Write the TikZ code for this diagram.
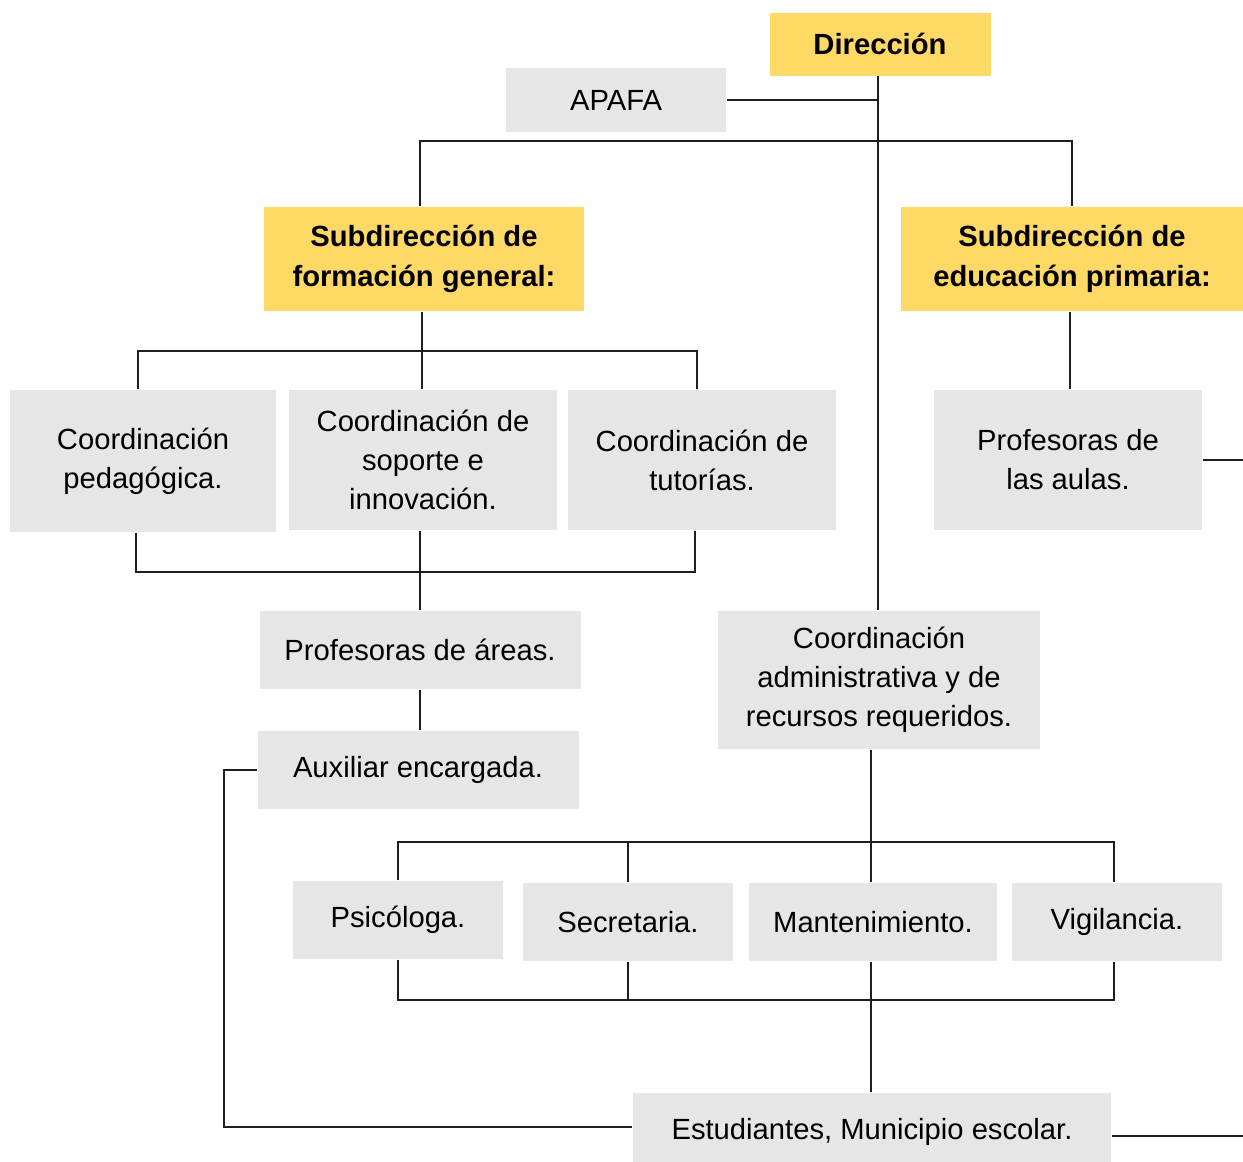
\documentclass[tikz,border=0pt]{standalone}
\usepackage{fontspec}
\setmainfont{Liberation Sans}
\usetikzlibrary{positioning,calc}
\definecolor{ink}{RGB}{30,30,30}
\definecolor{boxgray}{RGB}{230,230,230}
\definecolor{gold}{RGB}{255,217,102}
\tikzset{
  every picture/.style={color=ink, line width=0.6pt},
  unit/.style={fill=boxgray, inner sep=2pt, align=center, text=black, font=\fontsize{14.6}{19.5}\selectfont},
  head/.style={unit, fill=gold, font=\fontsize{14.6}{20}\selectfont\bfseries},
  link/.style={draw=ink, line width=0.6pt},
}
\begin{document}
\begin{tikzpicture}[x=0.5pt, y=-0.5pt]
  \useasboundingbox (0,0) rectangle (1243,1162);
  % top of the chart: direction and parents' association
  \node[head, minimum width=110.5pt, minimum height=31.5pt] (dir) at (880,44) {Dirección};
  \node[unit, minimum width=110pt, minimum height=32pt] (apafa) at (616,100) {APAFA};
  \node[head, minimum width=160pt, minimum height=52pt] (subgen) at (424,259) {Subdirección de\\ formación general:};
  \node[head, minimum width=171pt, minimum height=52pt] (subpri) at (1072,259) {Subdirección de\\ educación primaria:};
  % coordinations under the general subdirection
  \node[unit, minimum width=133pt, minimum height=71pt] (cped) at (143,461) {Coordinación\\ pedagógica.};
  \node[unit, minimum width=134pt, minimum height=70pt] (csop) at (423,460) {Coordinación de\\ soporte e\\ innovación.};
  \node[unit, minimum width=134pt, minimum height=70pt] (ctut) at (702,460) {Coordinación de\\ tutorías.};
  \node[unit, minimum width=134pt, minimum height=70pt] (paulas) at (1068,460) {Profesoras de\\ las aulas.};
  \node[unit, minimum width=160.5pt, minimum height=39pt] (pareas) at (420,650) {Profesoras de áreas.};
  \node[unit, minimum width=160.5pt, minimum height=39pt] (aux) at (418,770) {Auxiliar encargada.};
  \node[unit, minimum width=161pt, minimum height=69pt] (cadm) at (879,680) {Coordinación\\ administrativa y de\\ recursos requeridos.};
  % staff under the administrative coordination
  \node[unit, minimum width=105pt, minimum height=39pt] (psi) at (398,920) {Psicóloga.};
  \node[unit, minimum width=105pt, minimum height=39pt] (sec) at (628,922) {Secretaria.};
  \node[unit, minimum width=124pt, minimum height=39pt] (mant) at (873,922) {Mantenimiento.};
  \node[unit, minimum width=105pt, minimum height=39pt] (vig) at (1117,922) {Vigilancia.};
  \node[unit, minimum width=239pt, minimum height=38.5pt] (est) at (872,1131.5) {Estudiantes, Municipio escolar.};
  % connectors
  \coordinate (top) at (878,141);
  \coordinate (gtop) at (422,351);
  \coordinate (gbot) at (420,572);
  \coordinate (loop) at (224,1127);
  \coordinate (rim1) at (1243,460);
  \coordinate (rim2) at (1243,1136);
  \coordinate (stop) at (871,842);
  \coordinate (sbot) at (871,1000);
  \draw[link] (apafa.east) -- (apafa.east -| top);
  \draw[link] (top |- dir.south) -- (top |- cadm.north);
  \draw[link] ([xshift=-2pt]subgen.north) |- (top) -| (subpri.north);
  \draw[link] ([xshift=-1pt]subgen.south) -- (gtop |- csop.north);
  \draw[link] ([xshift=-2.5pt]cped.north) |- (gtop) -| ([xshift=-2.5pt]ctut.north);
  \draw[link] ([xshift=-3.5pt]cped.south) |- (gbot) -| ([xshift=-3.5pt]ctut.south);
  \draw[link] (gbot |- csop.south) -- (gbot |- pareas.north);
  \draw[link] (pareas.south) -- (pareas.south |- aux.north);
  \draw[link] (aux.west) -| (loop) -- (est.west |- loop);
  \draw[link] ([xshift=-1pt]subpri.south) -- ([xshift=-1pt]subpri.south |- paulas.north);
  \draw[link] (paulas.east) -- (rim1);
  \draw[link] (stop |- cadm.south) -- (stop |- mant.north);
  \draw[link] (psi.north) |- (stop) -| ([xshift=-1.5pt]vig.north);
  \draw[link] (sec.north) -- (sec.north |- stop);
  \draw[link] (psi.south) |- (sbot) -| ([xshift=-1.5pt]vig.south);
  \draw[link] (sec.south) -- (sec.south |- sbot);
  \draw[link] (sbot |- mant.south) -- (sbot |- est.north);
  \draw[link] (est.east |- rim2) -- (rim2);
\end{tikzpicture}
\end{document}
